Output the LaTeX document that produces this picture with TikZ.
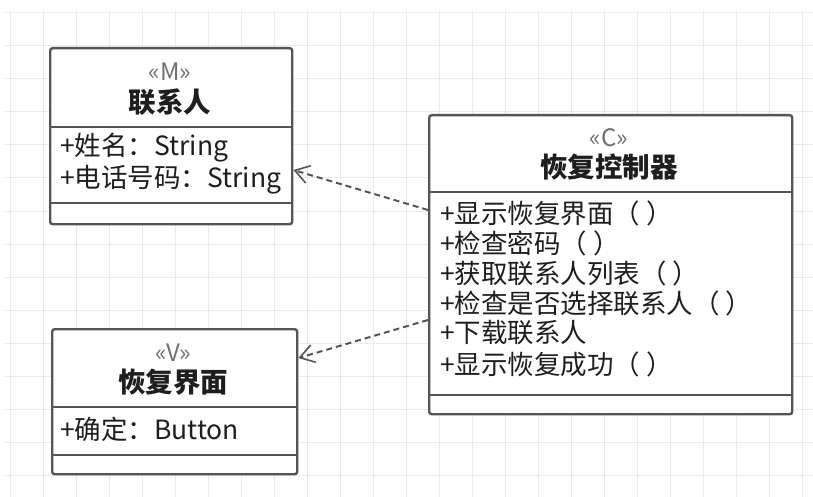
\documentclass[tikz,border=0pt]{standalone}
\usepackage{fontspec}
\setmainfont{Noto Sans CJK SC}
\usetikzlibrary{arrows.meta,calc}
\definecolor{boxline}{HTML}{555555}
\definecolor{gridc}{HTML}{EAEAEA}
\definecolor{txt}{HTML}{1E1E1E}
\definecolor{stereo}{HTML}{707070}
\begin{document}
\begin{tikzpicture}[x=1pt,y=-1pt,
 classbox/.style={draw=boxline, line width=2.4pt, rounded corners=2.5pt, fill=white, anchor=north west, inner sep=0pt},
 divider/.style={draw=boxline, line width=2.4pt},
 stereotype/.style={font=\fontsize{24}{26}\selectfont, text=stereo, inner sep=0pt},
 classname/.style={font=\bfseries\fontsize{27.5}{30}\selectfont, text=txt, inner sep=0pt},
 member/.style={font=\fontsize{26.5}{30}\selectfont, text=txt, anchor=west, inner sep=0pt},
 dep/.style={draw=boxline, line width=2pt, dash pattern=on 6pt off 4pt, -{Straight Barb[length=14pt,width=18pt,line width=1.6pt]}}]
\fill[white] (0,0) rectangle (813,497);
\useasboundingbox (0,0) rectangle (813,497);
\foreach \x in {10,43,...,813} \draw[gridc, line width=1pt] (\x,10) -- (\x,497);
\foreach \y in {13,46,...,497} \draw[gridc, line width=1pt] (5,\y) -- (813,\y);
% contact class
\node[classbox, minimum width=242pt, minimum height=176pt] (contact) at (49,47) {};
\draw[divider] (contact.west |- 0,127) -- (contact.east |- 0,127);
\draw[divider] (contact.west |- 0,203) -- (contact.east |- 0,203);
\node[stereotype] (contactst) at (170,72) {«M»};
\node[classname] (contactnm) at (170,102) {联系人};
\node[member] (contactm1) at (60,148) {+姓名：String};
\node[member] (contactm2) at (60,180) {+电话号码：String};
% controller class
\node[classbox, minimum width=363pt, minimum height=299pt] (ctrl) at (428,114) {};
\draw[divider] (ctrl.west |- 0,192) -- (ctrl.east |- 0,192);
\draw[divider] (ctrl.west |- 0,395) -- (ctrl.east |- 0,395);
\node[stereotype] (ctrlst) at (609,138) {«C»};
\node[classname] (ctrlnm) at (609,167) {恢复控制器};
\node[member] (ctrlm1) at (440,213) {+显示恢复界面（ ）};
\node[member] (ctrlm2) at (440,243) {+检查密码（ ）};
\node[member] (ctrlm3) at (440,273) {+获取联系人列表（ ）};
\node[member] (ctrlm4) at (440,303) {+检查是否选择联系人（ ）};
\node[member] (ctrlm5) at (440,333) {+下载联系人};
\node[member] (ctrlm6) at (440,364) {+显示恢复成功（ ）};
% view class
\node[classbox, minimum width=245pt, minimum height=145pt] (view) at (51,328) {};
\draw[divider] (view.west |- 0,407) -- (view.east |- 0,407);
\draw[divider] (view.west |- 0,455) -- (view.east |- 0,455);
\node[stereotype] (viewst) at (173,353) {«V»};
\node[classname] (viewnm) at (173,382) {恢复界面};
\node[member] (viewm1) at (60,429) {+确定：Button};
% dependencies
\draw[dep] (ctrl.west |- 0,210) -- (contact.east |- 0,170);
\draw[dep] (ctrl.west |- 0,320) -- (view.east |- 0,358);
\end{tikzpicture}
\end{document}
